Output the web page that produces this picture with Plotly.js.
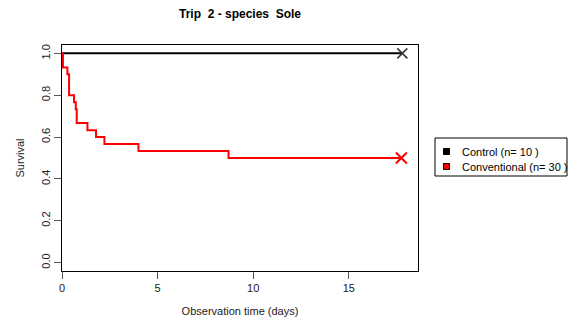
<!DOCTYPE html>
<html>
<head>
<meta charset="utf-8">
<script src="https://cdn.plot.ly/plotly-3.0.1.min.js"></script>
<style>html,body{margin:0;padding:0;background:#fff;}#chart{width:572px;height:327px;}</style>
</head>
<body>
<div id="chart"></div>
<script>
// Data
var controlTimes = [0, 17.8];
var controlSurv = [1, 1];
var controlCensorTime = [17.8];
var controlCensorSurv = [1];

var convTimes = [0, 0.05, 0.28, 0.37, 0.63, 0.72, 0.77, 1.33, 1.78, 2.22, 4.0, 8.71, 17.75];
var convSurv  = [1, 0.933, 0.9, 0.8, 0.767, 0.733, 0.667, 0.633, 0.6, 0.567, 0.533, 0.5, 0.5];
var convCensorTime = [17.75];
var convCensorSurv = [0.5];

var legendLabels = ['Control (n= 10 )', 'Conventional (n= 30 )'];
var seriesColors = ['#000000', '#ff0000'];

var traces = [
  {x: controlTimes, y: controlSurv, mode: 'lines', line: {shape: 'hv', color: seriesColors[0], width: 2}, showlegend: false, hoverinfo: 'skip'},
  {x: convTimes, y: convSurv, mode: 'lines', line: {shape: 'hv', color: seriesColors[1], width: 2}, showlegend: false, hoverinfo: 'skip'},
  {x: controlCensorTime, y: controlCensorSurv, mode: 'markers', marker: {symbol: 'x-thin-open', size: 10, color: '#333', line: {color: '#333', width: 1.5}}, showlegend: false},
  {x: convCensorTime, y: convCensorSurv, mode: 'markers', marker: {symbol: 'x-thin-open', size: 11, color: seriesColors[1], line: {color: seriesColors[1], width: 2}}, showlegend: false}
];

var axisFont = {family: 'Liberation Sans, Arial, sans-serif', size: 11, color: '#222'};

// legend drawn in paper coordinates (plot area: x 62..418 px, y 45..271 px)
function px(xp) { return (xp - 62) / 356; }
function py(yp) { return (271 - yp) / 226; }
var shapes = [
  {type: 'rect', xref: 'paper', yref: 'paper', x0: px(435), x1: px(567), y0: py(138), y1: py(176), line: {color: '#000', width: 1}, fillcolor: '#fff', layer: 'above'}
];
var annotations = [];
var rowY = [151.5, 166.5];
for (var i = 0; i < legendLabels.length; i++) {
  shapes.push({type: 'rect', xref: 'paper', yref: 'paper', x0: px(443.5), x1: px(449.5), y0: py(rowY[i] + 3), y1: py(rowY[i] - 3), line: {color: '#000', width: 1}, fillcolor: seriesColors[i], layer: 'above'});
  annotations.push({xref: 'paper', yref: 'paper', x: px(460), y: py(rowY[i]), xanchor: 'left', yanchor: 'middle', showarrow: false, text: legendLabels[i], font: {family: 'Liberation Sans, Arial, sans-serif', size: 11, color: '#000'}});
}

var layout = {
  width: 572, height: 327,
  margin: {l: 62, r: 154, t: 45, b: 56, pad: 0, autoexpand: false},
  paper_bgcolor: '#fff', plot_bgcolor: '#fff',
  font: axisFont,
  showlegend: false,
  shapes: shapes,
  annotations: annotations,
  title: {
    text: '<b>Trip\u00a0 2 - species\u00a0 Sole</b>',
    font: {family: 'Liberation Sans, Arial, sans-serif', size: 12, color: '#000'},
    x: 0.5, xref: 'paper', xanchor: 'center',
    y: 1 - 14/327, yref: 'container', yanchor: 'middle'
  },
  xaxis: {
    range: [0, 18.62], tickvals: [0, 5, 10, 15], ticktext: ['0','5','10','15'],
    showgrid: false, zeroline: false, showline: true, mirror: true, linecolor: '#000', linewidth: 1,
    ticks: 'outside', ticklen: 7, tickcolor: '#555', tickwidth: 1,
    tickfont: axisFont,
    title: {text: 'Observation time (days)', font: axisFont, standoff: 14}
  },
  yaxis: {
    range: [-0.04, 1.04], tickvals: [0, 0.2, 0.4, 0.6, 0.8, 1.0], ticktext: ['0.0','0.2','0.4','0.6','0.8','1.0'],
    tickangle: -90,
    showgrid: false, zeroline: false, showline: true, mirror: true, linecolor: '#000', linewidth: 1,
    ticks: 'outside', ticklen: 7, tickcolor: '#555', tickwidth: 1,
    tickfont: axisFont,
    title: {text: 'Survival', font: axisFont, standoff: 12}
  }
};

Plotly.newPlot('chart', traces, layout, {staticPlot: true, displayModeBar: false});
</script>
</body>
</html>
